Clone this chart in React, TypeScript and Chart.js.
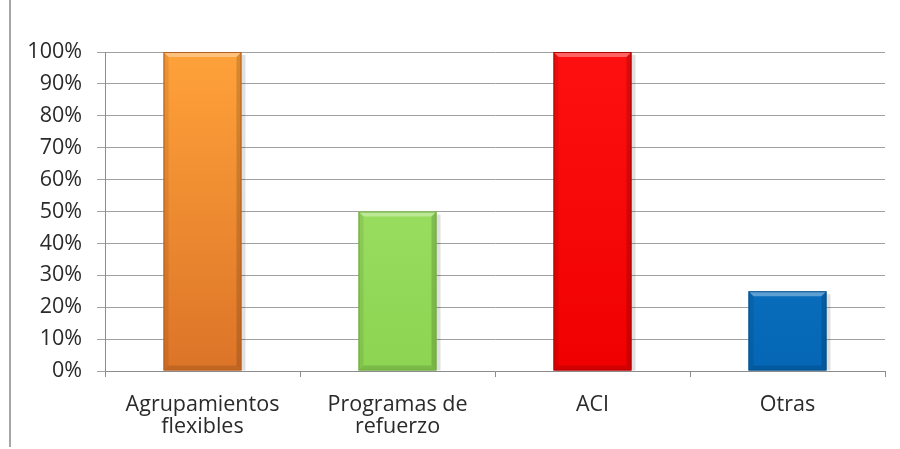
import React, { useEffect, useRef } from "react";
import { Chart, registerables } from "chart.js";

Chart.register(...registerables);

const categories: string[][] = [
  ["Agrupamientos", "flexibles"],
  ["Programas de", "refuerzo"],
  ["ACI"],
  ["Otras"],
];
const values: number[] = [100, 50, 100, 25];
const yTicks: number[] = [0, 10, 20, 30, 40, 50, 60, 70, 80, 90, 100];
const topColors: string[] = ["#FFA23A", "#A6E66A", "#FF1010", "#1A80D4"];
const bottomColors: string[] = ["#DC7428", "#8CD452", "#F00000", "#0466B4"];
const edgeColors: string[] = ["#B85E1E", "#6FA83E", "#B00000", "#04508C"];

const bevelPlugin = {
  id: "bevel",
  afterDatasetsDraw(chart: any) {
    const ctx = chart.ctx;
    const meta = chart.getDatasetMeta(0);
    meta.data.forEach((bar: any, i: number) => {
      const { x, y, width, base } = bar.getProps(["x", "y", "width", "base"], true);
      const l = x - width / 2;
      const r = x + width / 2;
      const b = 5;
      ctx.save();
      ctx.fillStyle = "rgba(255,255,255,0.35)";
      ctx.beginPath();
      ctx.moveTo(l, y);
      ctx.lineTo(r, y);
      ctx.lineTo(r - b, y + b);
      ctx.lineTo(l + b, y + b);
      ctx.closePath();
      ctx.fill();
      ctx.fillStyle = "rgba(0,0,0,0.08)";
      ctx.beginPath();
      ctx.moveTo(l, y);
      ctx.lineTo(l + b, y + b);
      ctx.lineTo(l + b, base - b);
      ctx.lineTo(l, base);
      ctx.closePath();
      ctx.fill();
      ctx.fillStyle = "rgba(0,0,0,0.15)";
      ctx.beginPath();
      ctx.moveTo(r, y);
      ctx.lineTo(r - b, y + b);
      ctx.lineTo(r - b, base - b);
      ctx.lineTo(r, base);
      ctx.closePath();
      ctx.fill();
      ctx.fillStyle = "rgba(0,0,0,0.12)";
      ctx.beginPath();
      ctx.moveTo(l, base);
      ctx.lineTo(l + b, base - b);
      ctx.lineTo(r - b, base - b);
      ctx.lineTo(r, base);
      ctx.closePath();
      ctx.fill();
      ctx.strokeStyle = edgeColors[i];
      ctx.lineWidth = 1;
      ctx.strokeRect(l + 0.5, y + 0.5, width - 1, base - y - 1);
      ctx.restore();
    });
  },
  beforeDatasetsDraw(chart: any) {
    const ctx = chart.ctx;
    const meta = chart.getDatasetMeta(0);
    meta.data.forEach((bar: any) => {
      const { x, y, width, base } = bar.getProps(["x", "y", "width", "base"], true);
      ctx.save();
      ctx.fillStyle = "rgba(0,0,0,0.12)";
      ctx.fillRect(x + width / 2, y + 3, 4, base - y - 3);
      ctx.restore();
    });
  },
};

export default function App() {
  const ref = useRef<HTMLCanvasElement | null>(null);
  useEffect(() => {
    if (!ref.current) return;
    const chart = new Chart(ref.current, {
      type: "bar",
      data: {
        labels: categories,
        datasets: [
          {
            data: values,
            backgroundColor: (c: any) => {
              const area = c.chart.chartArea;
              const i = c.dataIndex;
              if (!area) return topColors[i];
              const g = c.chart.ctx.createLinearGradient(0, area.top, 0, area.bottom);
              g.addColorStop(0, topColors[i]);
              g.addColorStop(1, bottomColors[i]);
              return g;
            },
            borderWidth: 0,
            barPercentage: 0.4,
            categoryPercentage: 1,
          },
        ],
      },
      options: {
        animation: false,
        responsive: false,
        maintainAspectRatio: false,
        layout: { padding: { top: 52, right: 15, left: 0, bottom: 0 } },
        plugins: { legend: { display: false }, tooltip: { enabled: false } },
        scales: {
          x: {
            grid: {
              display: true,
              drawOnChartArea: false,
              drawTicks: true,
              tickLength: 6,
              color: "#8c8c8c",
              offset: true,
            },
            border: { display: true, color: "#8c8c8c" },
            ticks: {
              color: "#2a2a2a",
              font: { family: "Open Sans", size: 21.5, lineHeight: 1.03 },
              padding: 17,
              maxRotation: 0,
              autoSkip: false,
            },
            afterFit: (s: any) => {
              s.height = 78;
            },
          },
          y: {
            min: 0,
            max: 100,
            afterBuildTicks: (s: any) => {
              s.ticks = yTicks.map((v) => ({ value: v }));
            },
            grid: { color: "#a0a0a0", tickLength: 8, drawTicks: true },
            border: { display: true, color: "#8c8c8c" },
            ticks: {
              color: "#2a2a2a",
              font: { family: "Open Sans", size: 21.5 },
              padding: 15,
              callback: (v: any) => v + "%",
            },
            afterFit: (s: any) => {
              s.width = 105;
            },
          },
        },
      },
      plugins: [bevelPlugin],
    });
    return () => chart.destroy();
  }, []);
  return (
    <div style={{ position: "fixed", left: 0, top: 0, width: 900, height: 449, background: "#fff" }}>
      <div style={{ position: "absolute", left: 9, top: 0, width: 2, height: 447, background: "#a6a6a6" }} />
      <canvas ref={ref} width={900} height={449} style={{ position: "absolute", left: 0, top: 0 }} />
    </div>
  );
}
